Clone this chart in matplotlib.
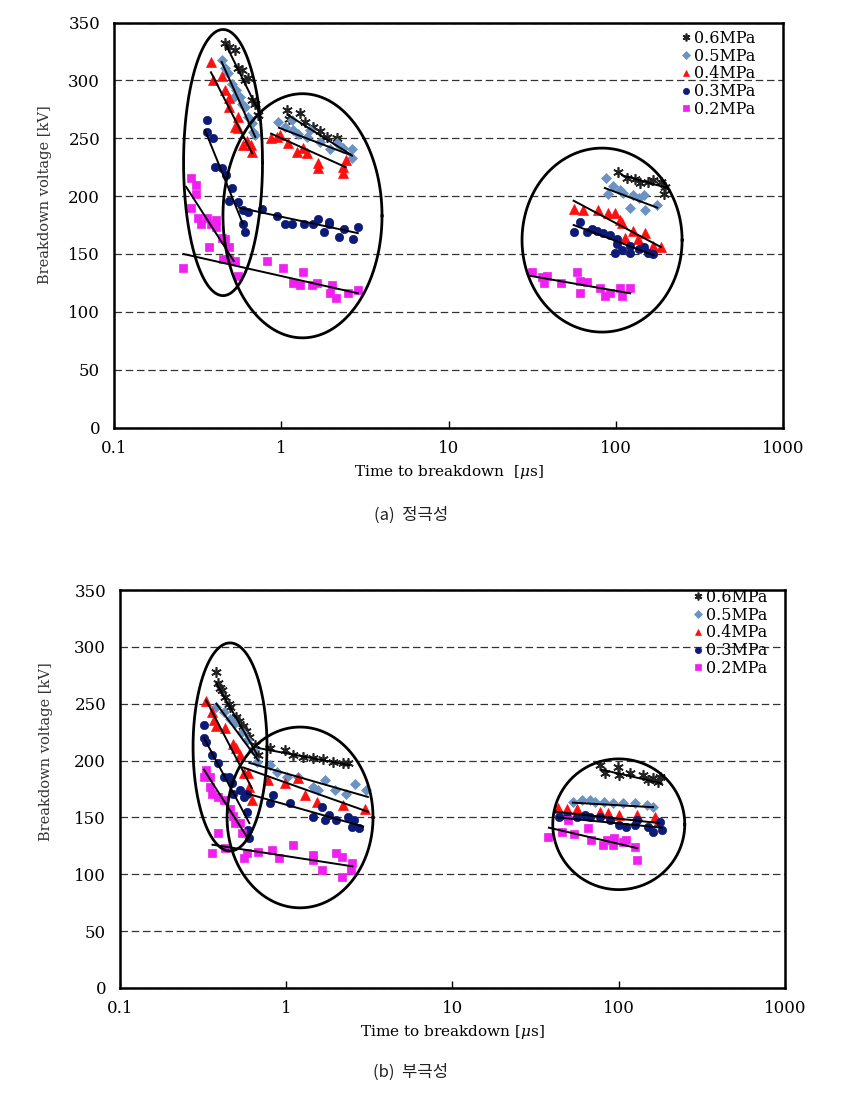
import numpy as np
import matplotlib
matplotlib.use('Agg')
import matplotlib.pyplot as plt
from matplotlib.ticker import NullLocator, FixedLocator

plt.rcParams['font.family'] = ['DejaVu Serif']
plt.rcParams['mathtext.fontset'] = 'dejavuserif'

# ---------------- legend labels ----------------
labels = ['0.6MPa', '0.5MPa', '0.4MPa', '0.3MPa', '0.2MPa']
x_ticks = [0.1, 1, 10, 100, 1000]
x_tick_labels = ['0.1', '1', '10', '100', '1000']
y_ticks = [0, 50, 100, 150, 200, 250, 300, 350]

# ---------------- (a) positive polarity ----------------
a06_t = [0.46, 0.49, 0.53, 0.55, 0.58, 0.61, 0.63, 0.67, 0.70, 0.73,
         1.08, 1.12, 1.29, 1.38, 1.55, 1.70, 1.88, 2.15,
         103, 116, 131, 140, 155, 168, 186, 198, 195]
a06_v = [332, 329, 326, 311, 309, 300, 302, 283, 280, 270,
         274, 267, 272, 264, 260, 256, 251, 250,
         221, 216, 215, 211, 212, 214, 212, 208, 202]
a05_t = [0.44, 0.46, 0.48, 0.51, 0.52, 0.54, 0.57, 0.58, 0.61, 0.63, 0.67, 0.68, 0.70,
         0.96, 1.05, 1.16, 1.18, 1.26, 1.43, 1.48, 1.70, 1.96, 2.15, 2.34, 2.65, 2.65,
         88, 90, 96, 106, 111, 126, 137, 147, 150, 122, 177]
a05_v = [318, 311, 306, 297, 286, 292, 286, 280, 277, 268, 263, 255, 253,
         264, 260, 266, 257, 254, 251, 257, 247, 241, 246, 242, 241, 233,
         216, 202, 209, 205, 203, 201, 198, 201, 188, 190, 192]
a04_t = [0.38, 0.39, 0.44, 0.46, 0.49, 0.49, 0.53, 0.55, 0.55, 0.59, 0.62, 0.66, 0.67,
         0.87, 0.94, 0.98, 1.10, 1.25, 1.35, 1.43, 1.65, 1.66, 2.33, 2.34, 2.43,
         56, 64, 78, 90, 99, 106, 109, 126, 114, 135, 150, 166, 186, 140]
a04_v = [316, 300, 304, 292, 285, 277, 260, 268, 259, 244, 248, 244, 238,
         250, 251, 253, 246, 238, 242, 237, 229, 224, 225, 220, 231,
         189, 188, 188, 185, 185, 179, 177, 170, 164, 163, 168, 157, 156, 157]
a03_t = [0.36, 0.36, 0.39, 0.40, 0.44, 0.47, 0.51, 0.49, 0.55, 0.59, 0.63, 0.59, 0.61,
         0.77, 0.94, 1.06, 1.16, 1.36, 1.54, 1.67, 1.79, 1.92, 1.94, 2.21, 2.38, 2.68, 2.87,
         61, 56, 67, 72, 77, 84, 92, 102, 102, 99, 109, 122, 122, 137, 147, 156, 166]
a03_v = [266, 255, 250, 225, 224, 218, 207, 196, 195, 188, 186, 176, 169,
         189, 183, 176, 176, 176, 176, 180, 169, 178, 176, 165, 172, 163, 173,
         178, 169, 169, 172, 170, 168, 166, 163, 159, 151, 153, 151, 157, 154, 156, 151, 150]
a02_t = [0.29, 0.31, 0.31, 0.26, 0.29, 0.32, 0.33, 0.36, 0.38, 0.41, 0.41, 0.37, 0.44,
         0.46, 0.49, 0.45, 0.49, 0.53, 0.55,
         0.82, 1.03, 1.34, 1.18, 1.30, 1.53, 1.64, 2.02, 1.96, 2.13, 2.50, 2.87,
         31.5, 36, 39, 37, 47, 59, 61, 67, 61, 80, 86, 92, 106, 109, 122]
a02_v = [216, 210, 202, 138, 190, 181, 176, 181, 176, 179, 173, 156, 164,
         163, 156, 146, 146, 144, 131,
         144, 138, 134, 125, 123, 123, 125, 123, 116, 112, 116, 119,
         134, 130, 131, 125, 125, 134, 127, 126, 116, 121, 114, 116, 121, 114, 121]

# trend lines (a): each pair = start/end of one fitted segment
a06_fit_t = [[0.47, 0.74], [1.1, 2.6], [109, 204]]
a06_fit_v = [[330, 272], [270, 236], [218, 207]]
a05_fit_t = [[0.44, 0.70], [0.97, 2.65], [86, 177]]
a05_fit_v = [[316, 251], [259, 235], [207, 190]]
a04_fit_t = [[0.38, 0.67], [0.87, 2.43], [56, 186]]
a04_fit_v = [[307, 237], [254, 225], [196, 156]]
a03_fit_t = [[0.35, 0.59], [0.56, 2.87], [56, 168]]
a03_fit_v = [[257, 176], [190, 168], [175, 149]]
a02_fit_t = [[0.27, 0.52], [0.26, 2.87], [31, 122]]
a02_fit_v = [[208, 144], [150, 116], [131, 116]]

# ---------------- (b) negative polarity ----------------
b06_t = [0.38, 0.39, 0.40, 0.41, 0.43, 0.45, 0.46, 0.50, 0.52, 0.55, 0.57, 0.60, 0.65, 0.68,
         0.80, 0.98, 1.10, 1.26, 1.45, 1.66, 1.90, 2.20, 2.35,
         77, 83, 99, 101, 117, 140, 150, 161, 172, 176]
b06_v = [278, 268, 264, 262, 256, 250, 247, 238, 235, 230, 226, 221, 214, 205,
         211, 209, 205, 203, 202, 201, 199, 198, 198,
         196, 189, 194, 187, 189, 187, 183, 185, 181, 186]
b05_t = [0.38, 0.42, 0.46, 0.49, 0.54, 0.58, 0.63, 0.67,
         0.80, 0.88, 1.01, 1.17, 1.45, 1.55, 1.71, 1.97, 2.3, 2.6, 3.0,
         53, 60, 67, 72, 82, 92, 106, 125, 147, 161]
b05_v = [247, 243, 237, 233, 225, 218, 209, 199,
         196, 190, 186, 186, 177, 174, 183, 174, 171, 179, 174,
         164, 165, 165, 164, 164, 163, 163, 163, 161, 159]
b04_t = [0.33, 0.36, 0.37, 0.38, 0.43, 0.48, 0.50, 0.53, 0.56, 0.60, 0.62,
         0.59, 0.78, 0.98, 1.17, 1.29, 1.53, 2.2, 2.98,
         43, 49, 56, 77, 86, 101, 129, 165, 172]
b04_v = [252, 243, 236, 230, 229, 215, 211, 205, 189, 177, 165,
         189, 183, 180, 185, 170, 164, 161, 157,
         158, 157, 157, 155, 154, 152, 152, 150, 146]
b03_t = [0.32, 0.32, 0.33, 0.36, 0.39, 0.42, 0.45, 0.47, 0.48, 0.53, 0.56, 0.58, 0.59, 0.60,
         0.58, 0.83, 0.80, 1.05, 1.45, 1.63, 1.71, 1.82, 2.0, 2.35, 2.5, 2.75, 2.55,
         44, 49, 56, 63, 67, 77, 88, 101, 110, 125, 129, 150, 161, 181, 176]
b03_v = [231, 220, 216, 205, 198, 186, 186, 180, 171, 174, 168, 155, 139, 132,
         171, 170, 163, 163, 150, 159, 148, 152, 148, 150, 142, 141, 148,
         150, 150, 150, 152, 150, 150, 148, 143, 142, 143, 148, 142, 137, 139, 146]
b02_t = [0.33, 0.32, 0.35, 0.35, 0.36, 0.39, 0.42, 0.46, 0.48, 0.49, 0.53, 0.54, 0.39,
         0.43, 0.36, 0.58, 0.56,
         0.68, 0.82, 0.91, 1.1, 1.45, 1.45, 1.63, 2.0, 2.15, 2.5, 2.45, 2.15,
         37.5, 45.6, 49.6, 54, 65, 68, 80, 85, 92, 94, 106, 110, 125, 129]
b02_v = [192, 186, 186, 177, 171, 168, 165, 157, 151, 145, 145, 136, 136,
         123, 119, 119, 114,
         120, 121, 114, 126, 117, 113, 104, 119, 115, 110, 104, 98,
         133, 137, 148, 135, 141, 130, 126, 130, 126, 132, 128, 130, 124, 113]

b06_fit_t = [[0.38, 0.67], [0.68, 2.4], [79, 181]]
b06_fit_v = [[268, 205], [211, 196], [192, 180]]
b05_fit_t = [[0.38, 0.68], [0.6, 3.1], [53, 161]]
b05_fit_v = [[250, 200], [198, 168], [163, 159]]
b04_fit_t = [[0.33, 0.62], [0.55, 3.1], [42, 175]]
b04_fit_v = [[253, 176], [194, 155], [155, 145]]
b03_fit_t = [[0.32, 0.60], [0.58, 2.9], [43, 181]]
b03_fit_v = [[220, 145], [171, 142], [150, 141]]
b02_fit_t = [[0.32, 0.58], [0.36, 2.5], [38, 129]]
b02_fit_v = [[192, 133], [126, 107], [141, 123]]

# grouping ellipses: (log10 centre, log10 width, voltage centre, voltage height)
a_groups = [(-0.348, 0.472, 229, 230), (0.127, 0.951, 183, 211), (1.918, 0.957, 162, 159)]
b_groups = [(-0.338, 0.445, 212, 183), (0.083, 0.878, 150, 159), (2.0, 0.794, 144, 115)]

# ---------------- styles ----------------
markers = [(6, 2, 0), 'D', '^', 'o', 's']
colors = ['#222222', '#6a92c4', '#ff1010', '#0c1a78', '#f020f0']
msizes = [7.5, 5, 6.5, 6, 6.2]

fig = plt.figure(figsize=(8.57, 11.16), dpi=100)
ax_a = fig.add_axes([0.1330, 0.6169, 0.7807, 0.3629])
ax_b = fig.add_axes([0.1400, 0.1147, 0.7760, 0.3566])

panels = [
    (ax_a, [(a06_t, a06_v), (a05_t, a05_v), (a04_t, a04_v), (a03_t, a03_v), (a02_t, a02_v)],
     [(a06_fit_t, a06_fit_v), (a05_fit_t, a05_fit_v), (a04_fit_t, a04_fit_v),
      (a03_fit_t, a03_fit_v), (a02_fit_t, a02_fit_v)], a_groups,
     'Time to breakdown  [$\\mu$s]', (-0.092, 0.574), (0.958, 0.982)),
    (ax_b, [(b06_t, b06_v), (b05_t, b05_v), (b04_t, b04_v), (b03_t, b03_v), (b02_t, b02_v)],
     [(b06_fit_t, b06_fit_v), (b05_fit_t, b05_fit_v), (b04_fit_t, b04_fit_v),
      (b03_fit_t, b03_fit_v), (b02_fit_t, b02_fit_v)], b_groups,
     'Time to breakdown [$\\mu$s]', (-0.100, 0.593), (0.973, 1.003)),
]

theta = np.linspace(0, 2 * np.pi, 400)
for ax, series, fits, groups, xlab, ylab_pos, leg_anchor in panels:
    ax.set_xscale('log')
    ax.set_xlim(0.1, 1000)
    ax.set_ylim(0, 350)
    for (t, v), lab, m, c, s in zip(series, labels, markers, colors, msizes):
        ax.plot(t, v, linestyle='none', marker=m, color=c, markersize=s,
                markeredgewidth=1.2 if m == (6, 2, 0) else 0.5, label=lab, zorder=3)
    for ft, fv in fits:
        for tt, vv in zip(ft, fv):
            ax.plot(tt, vv, color='black', lw=1.4, zorder=4)
    for lc, lwid, vc, vh in groups:
        ax.plot(10 ** (lc + lwid / 2 * np.cos(theta)), vc + vh / 2 * np.sin(theta),
                color='black', lw=2.0, zorder=5)
    ax.xaxis.set_major_locator(FixedLocator(x_ticks))
    ax.set_xticklabels(x_tick_labels)
    ax.xaxis.set_minor_locator(NullLocator())
    ax.set_yticks(y_ticks)
    ax.yaxis.grid(True, linestyle=(0, (6, 3)), color='#333333', lw=0.9)
    ax.set_axisbelow(True)
    ax.tick_params(axis='x', direction='in', length=5, width=1, labelsize=12, pad=9)
    ax.tick_params(axis='y', length=0, labelsize=12, pad=10)
    for sp in ax.spines.values():
        sp.set_linewidth(1.8)
    ax.set_xlabel(xlab, fontsize=11, labelpad=4)
    ax.set_ylabel('Breakdown voltage [kV]', fontsize=10.5, color='#333333')
    ax.yaxis.set_label_coords(*ylab_pos)
    ax.legend(loc='upper right', bbox_to_anchor=leg_anchor, frameon=False, fontsize=11.5,
              handlelength=0.6, handletextpad=0.15, labelspacing=0.05,
              borderaxespad=0.0, borderpad=0.0, markerscale=0.75)

fig.text(411 / 857, 1 - 515 / 1116, '(a)  정극성', family=['Noto Sans CJK KR', 'DejaVu Sans'],
         fontsize=12, ha='center', va='center', color='#222222')
fig.text(411 / 857, 1 - 1072 / 1116, '(b)  부극성', family=['Noto Sans CJK KR', 'DejaVu Sans'],
         fontsize=12, ha='center', va='center', color='#222222')

fig.savefig('out.png', dpi=100, facecolor='white')
